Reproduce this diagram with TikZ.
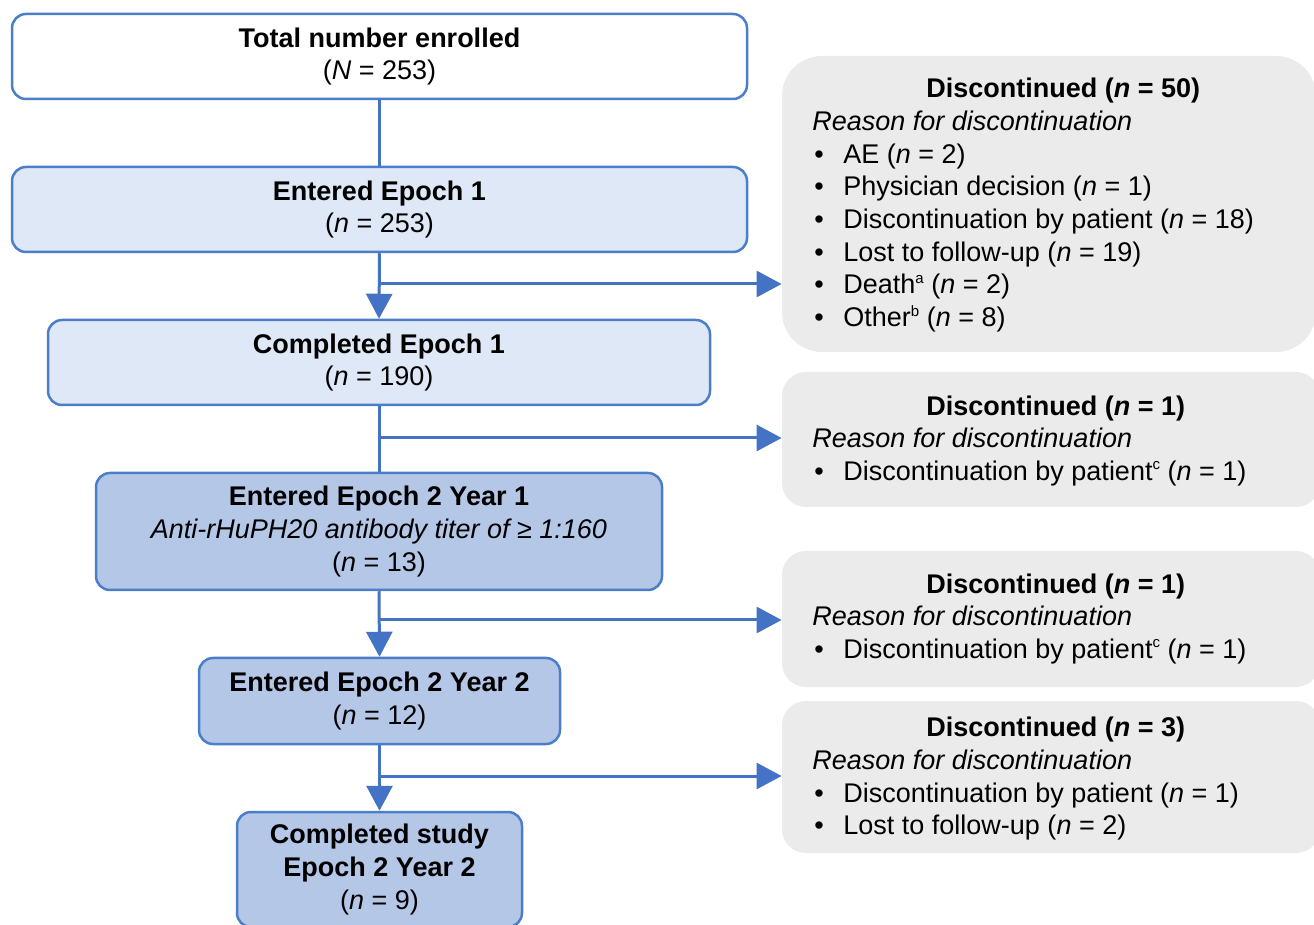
\documentclass[tikz,border=0pt]{standalone}
\usepackage{fontspec}
\setmainfont{Liberation Sans}
\usetikzlibrary{arrows.meta}
\definecolor{lineblue}{HTML}{4472C4}
\definecolor{edgeblue}{HTML}{4A7EC9}
\definecolor{paleblue}{HTML}{DEE8F6}
\definecolor{midblue}{HTML}{B4C7E7}
\definecolor{boxgray}{HTML}{EBEBEB}
\newcommand\fsz{\fontsize{13.5pt}{16.35pt}\selectfont}
\newcommand\bul{\makebox[15.5pt][l]{\hspace{1pt}\textbullet}}
\newcommand\supr[1]{\raisebox{0.75ex}{\fontsize{7.5pt}{7.5pt}\selectfont #1}}
\tikzset{
  mainbox/.style={draw=edgeblue, line width=1.25pt, rounded corners=7pt, inner sep=0pt, align=center, font=\fsz},
  whitebox/.style={mainbox, fill=white},
  palebox/.style={mainbox, fill=paleblue},
  darkbox/.style={mainbox, fill=midblue},
  graybox/.style={fill=boxgray, inner sep=0pt},
  gtitle/.style={anchor=base west, inner sep=0pt, font=\fsz\bfseries},
  gbody/.style={anchor=base west, inner sep=0pt, align=left, font=\fsz},
  flow/.style={draw=lineblue, line width=1.5pt},
  arr/.style={flow, -{Triangle[length=12.5pt,width=13pt]}}
}
\begin{document}
\begin{tikzpicture}[x=0.5pt,y=-0.5pt]
\useasboundingbox (0,0) rectangle (1314,925);
\clip (0,0) rectangle (1314,925);
% left column
\node[whitebox, minimum width=367.5pt, minimum height=42.5pt] (b1) at (379.5,56.5)
  {\textbf{Total number enrolled}\\(\textit{N} = 253)};
\node[palebox, minimum width=367.5pt, minimum height=42.5pt] (b2) at (379.5,209.5)
  {\textbf{Entered Epoch 1}\\(\textit{n} = 253)};
\node[palebox, minimum width=331pt, minimum height=42.5pt] (b3) at (379,362.5)
  {\textbf{Completed Epoch 1}\\(\textit{n} = 190)};
\node[darkbox, minimum width=283pt, minimum height=58.5pt] (b4) at (379,531.5)
  {\textbf{Entered Epoch 2 Year 1}\\\textit{Anti-rHuPH20 antibody titer of ≥ 1:160}\\(\textit{n} = 13)};
\node[darkbox, minimum width=180.5pt, minimum height=43pt] (b5) at (379.5,701)
  {\textbf{Entered Epoch 2 Year 2}\\(\textit{n} = 12)};
\node[darkbox, minimum width=142.5pt, minimum height=57.5pt] (b6) at (379.5,869.5)
  {\textbf{Completed study}\\\textbf{Epoch 2 Year 2}\\(\textit{n} = 9)};
% right column
\node[graybox, rounded corners=20pt, minimum width=267pt, minimum height=148pt] (g1) at (1049,204) {};
\node[graybox, rounded corners=12pt, minimum width=269pt, minimum height=67.5pt] (g2) at (1051,439.5) {};
\node[graybox, rounded corners=12pt, minimum width=269pt, minimum height=68pt] (g3) at (1051,619) {};
\node[graybox, rounded corners=12pt, minimum width=269pt, minimum height=76pt] (g4) at (1051,777) {};
\node[gtitle] (t1) at (926,97.5) {Discontinued (\textit{n} = 50)};
\node[gbody] (l1) at (812,326.7) {\textit{Reason for discontinuation}\\
  \bul AE (\textit{n} = 2)\\
  \bul Physician decision (\textit{n} = 1)\\
  \bul Discontinuation by patient (\textit{n} = 18)\\
  \bul Lost to follow-up (\textit{n} = 19)\\
  \bul Death\supr{a} (\textit{n} = 2)\\
  \bul Other\supr{b} (\textit{n} = 8)};
\node[gtitle] (t2) at (926,415.5) {Discontinued (\textit{n} = 1)};
\node[gbody] (l2) at (812,480.2) {\textit{Reason for discontinuation}\\
  \bul Discontinuation by patient\supr{c} (\textit{n} = 1)};
\node[gtitle] (t3) at (926,593.5) {Discontinued (\textit{n} = 1)};
\node[gbody] (l3) at (812,658.2) {\textit{Reason for discontinuation}\\
  \bul Discontinuation by patient\supr{c} (\textit{n} = 1)};
\node[gtitle] (t4) at (926,736.5) {Discontinued (\textit{n} = 3)};
\node[gbody] (l4) at (812,834.9) {\textit{Reason for discontinuation}\\
  \bul Discontinuation by patient (\textit{n} = 1)\\
  \bul Lost to follow-up (\textit{n} = 2)};
% connectors
\coordinate (j1) at (379,284);
\coordinate (j2) at (379,438);
\coordinate (j3) at (379,620);
\coordinate (j4) at (379,776);
\draw[flow] (b1.south) -- (b2.north);
\draw[arr] (b2.south) -- (b3.north);
\draw[arr] (j1) -- (j1 -| g1.west);
\draw[flow] (b3.south) -- (b4.north);
\draw[arr] (j2) -- (j2 -| g2.west);
\draw[arr] (b4.south) -- (b5.north);
\draw[arr] (j3) -- (j3 -| g3.west);
\draw[arr] (b5.south) -- (b6.north);
\draw[arr] (j4) -- (j4 -| g4.west);
\end{tikzpicture}
\end{document}
